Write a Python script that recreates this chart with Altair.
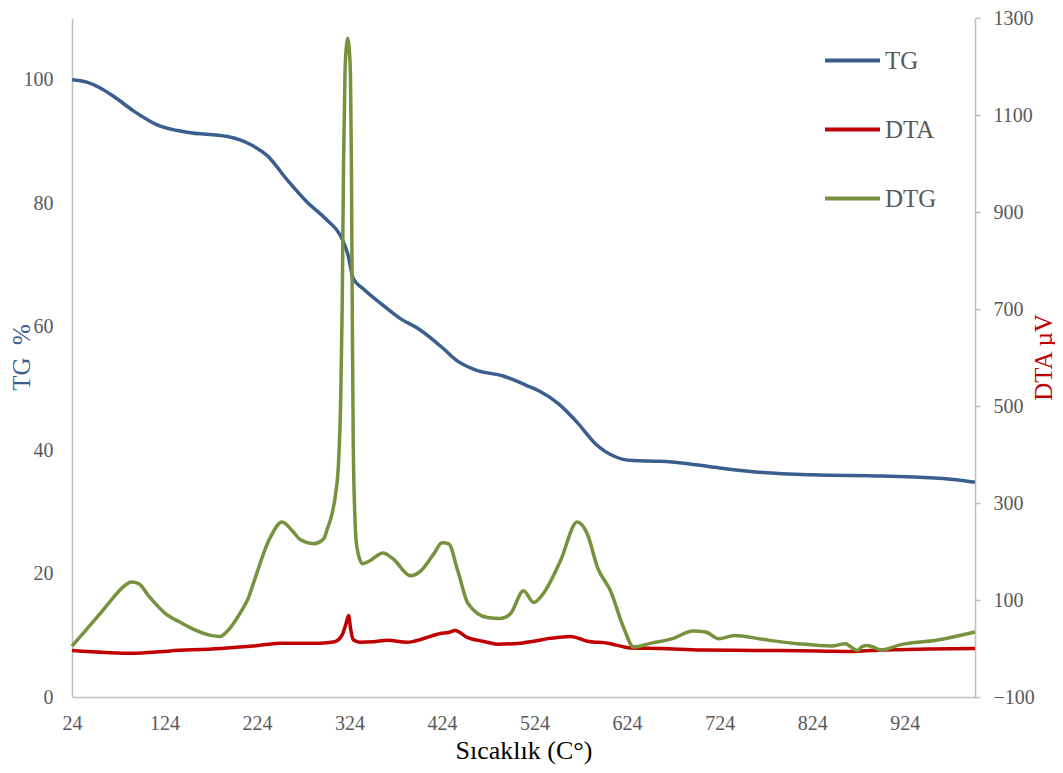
import altair as alt
import pandas as pd

# ---------------- data ----------------
tg_t = [24, 40, 54, 70, 90, 116, 148, 192, 217, 235, 257, 278, 300, 314, 322, 328,
        339, 360, 379, 400, 425, 440, 460, 490, 515, 530, 550, 570, 590, 610, 630,
        660, 690, 724, 760, 824, 900, 940, 980, 1000]
tg_v = [100, 99.6, 98.7, 97.2, 95, 92.7, 91.5, 90.8, 89.5, 87.7, 83.7, 80.2, 77.2,
        74.8, 71.8, 67.8, 66.1, 63.5, 61.3, 59.5, 56.5, 54.5, 53, 52, 50.5, 49.5,
        47.5, 44.5, 41, 39, 38.3, 38.2, 37.8, 37.1, 36.5, 36, 35.8, 35.6, 35.2, 34.8]

dta_t = [24, 60, 88, 130, 184, 220, 249, 292, 308, 316, 320, 323, 325, 328, 335,
         350, 365, 386, 405, 422, 431, 438, 451, 468, 484, 509, 523, 541, 563, 581,
         603, 628, 660, 704, 760, 830, 870, 900, 950, 1000]
dta_v = [-4, -8, -10, -5, 0, 5, 11, 11, 14, 28, 50, 68, 42, 18, 13, 14, 17, 13, 21,
         31, 33, 37, 23, 15, 9, 11, 15, 21, 25, 15, 11, 1, 0, -3, -4, -5, -6, -3, -1, 0]

dtg_t = [24, 40, 58, 70, 80, 88, 96, 107, 125, 140, 155, 174, 184, 192, 206, 215,
         220, 238, 251, 262, 271, 285, 296, 300, 305, 309, 312, 314.5, 316, 317.5,
         319, 320.5, 322, 323.5, 325, 326, 327, 328, 330, 332, 338, 346, 360, 371,
         390, 401, 415, 424, 431, 441, 452, 473, 487, 498, 512, 523, 534, 552, 570,
         581, 592, 606, 620, 631, 650, 674, 695, 709, 723, 740, 770, 808, 845, 860,
         866, 873, 878, 883, 890, 898, 920, 958, 1000]
dtg_v = [5, 40, 80, 108, 128, 137, 134, 108, 72, 55, 40, 27, 25, 36, 74, 106, 134,
         228, 261, 243, 224, 216, 226, 247, 277, 320, 380, 520, 700, 1000, 1180,
         1240, 1258, 1240, 1180, 1000, 673, 420, 260, 208, 175, 181, 197, 185, 150,
         160, 195, 218, 216, 160, 93, 64, 62, 72, 119, 95, 115, 181, 261, 236, 167,
         119, 44, 3, 11, 21, 36, 34, 20, 27, 19, 10, 5, 10, 3, -4, 4, 6, 3, -3, 8,
         17, 34]

series = ["TG", "DTA", "DTG"]
colors = ["#3B5E8F", "#C00000", "#76923C"]
x_ticks = [24, 124, 224, 324, 424, 524, 624, 724, 824, 924]
left_ticks = [0, 20, 40, 60, 80, 100]
right_ticks = [-100, 100, 300, 500, 700, 900, 1100, 1300]

tg_df = pd.DataFrame({"T": tg_t, "v": tg_v, "series": "TG"})
dta_df = pd.DataFrame({"T": dta_t, "v": dta_v, "series": "DTA"})
dtg_df = pd.DataFrame({"T": dtg_t, "v": dtg_v, "series": "DTG"})

FONT = "Liberation Serif"
GRAY = "#595959"
AXIS_LINE = "#BFBFBF"

color = alt.Color(
    "series:N",
    scale=alt.Scale(domain=series, range=colors),
    legend=alt.Legend(
        title=None, orient="none", legendX=751, legendY=13, direction="vertical",
        symbolType="stroke", symbolSize=3025, symbolStrokeWidth=4,
        labelFontSize=25, labelFont=FONT, labelColor=GRAY, labelOffset=3,
        rowPadding=26, padding=0,
    ),
)

x_enc = alt.X(
    "T:Q",
    scale=alt.Scale(domain=[24, 1000], nice=False, zero=False),
    axis=alt.Axis(
        values=x_ticks, title="Sıcaklık (C°)", titleFont=FONT, titleFontSize=26,
        titleFontWeight="normal", titleColor="#000000", titleY=61,
        titleBaseline="alphabetic", labelFont=FONT, labelFontSize=20,
        labelColor=GRAY, labelPadding=16, ticks=False, tickSize=0,
        domainColor=AXIS_LINE, domainWidth=1.5, grid=False, labelFlush=False,
    ),
)

y_left = alt.Y(
    "v:Q",
    scale=alt.Scale(domain=[0, 110], nice=False, zero=False),
    axis=alt.Axis(
        values=left_ticks, title="TG\u00a0\u00a0%", titleFont=FONT, titleFontSize=25,
        titleFontWeight="normal", titleColor="#3B5E8F", titleAngle=270,
        titleX=-51, titleY=339, titleAlign="center", titleBaseline="middle",
        labelFont=FONT, labelFontSize=20, labelColor=GRAY, labelPadding=19,
        ticks=False, tickSize=0, domainColor=AXIS_LINE, domainWidth=1.5, grid=False,
    ),
)

y_right = alt.Y(
    "v:Q",
    scale=alt.Scale(domain=[-100, 1300], nice=False, zero=False),
    axis=alt.Axis(
        orient="right", values=right_ticks, format="d", title="DTA µV",
        titleFont=FONT, titleFontSize=25, titleFontWeight="normal",
        titleColor="#C00000", titleAngle=270, titleX=68, titleY=339,
        titleAlign="center", titleBaseline="middle", labelFont=FONT,
        labelFontSize=20, labelColor=GRAY, labelPadding=13, ticks=True,
        tickSize=5, tickColor=AXIS_LINE, tickWidth=1.5, domainColor=AXIS_LINE,
        domainWidth=1.5, grid=False,
    ),
)

tg = alt.Chart(tg_df).mark_line(strokeWidth=3.5, interpolate="monotone").encode(
    x=x_enc, y=y_left, color=color
)
dta = alt.Chart(dta_df).mark_line(strokeWidth=3.5, interpolate="monotone").encode(
    x=x_enc, y=y_right, color=color
)
dtg = alt.Chart(dtg_df).mark_line(strokeWidth=3.5, interpolate="monotone").encode(
    x=x_enc, y=y_right, color=color
)

chart = (
    alt.layer(tg, alt.layer(dta, dtg))
    .resolve_scale(y="independent")
    .properties(
        width=903, height=679,
        padding={"left": 64, "top": 10, "right": 80, "bottom": 68},
        autosize=alt.AutoSizeParams(type="none"),
        background="#FFFFFF",
    )
    .configure_view(stroke=None)
)

chart.save("out.html", embed_options={"renderer": "svg", "actions": False})
